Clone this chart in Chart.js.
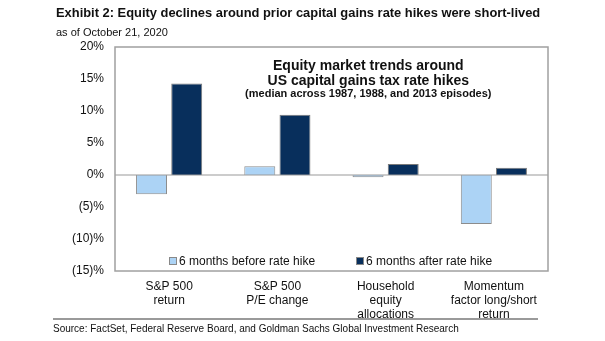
<!DOCTYPE html>
<html>
<head>
<meta charset="utf-8">
<script src="https://cdn.jsdelivr.net/npm/chart.js@4"></script>
<style>
  html, body { margin: 0; padding: 0; background: #fff; }
  #wrap { position: relative; width: 605px; height: 341px; font-family: "Liberation Sans", Arial, sans-serif; color: #111; }
  #c { position: absolute; left: 0; top: 0; }
  .t { position: absolute; white-space: nowrap; line-height: 1; }
  #title { left: 56px; top: 7px; font-size: 12.9px; font-weight: bold; }
  #sub { left: 56px; top: 27px; font-size: 11px; }
  #rule { position: absolute; left: 53px; top: 318px; width: 485px; height: 0; border-top: 2px solid #9a9a9a; }
  #src { left: 53px; top: 324px; font-size: 10px; }
</style>
</head>
<body>
<div id="wrap">
  <canvas id="c" width="605" height="341"></canvas>
  <div class="t" id="title">Exhibit 2: Equity declines around prior capital gains rate hikes were short-lived</div>
  <div class="t" id="sub">as of October 21, 2020</div>
  <div id="rule"></div>
  <div class="t" id="src">Source: FactSet, Federal Reserve Board, and Goldman Sachs Global Investment Research</div>
</div>
<script>
const categories = [
  ["S&P 500", "return"],
  ["S&P 500", "P/E change"],
  ["Household", "equity", "allocations"],
  ["Momentum", "factor long/short", "return"]
];
const seriesNames = ["6 months before rate hike", "6 months after rate hike"];
const beforeValues = [-3.0, 1.35, -0.35, -7.65];
const afterValues = [14.3, 9.4, 1.7, 1.15];
const yTicks = [20, 15, 10, 5, 0, -5, -10, -15];
const innerTitle = ["Equity market trends around", "US capital gains tax rate hikes", "(median across 1987, 1988, and 2013 episodes)"];

const FONT = '"Liberation Sans", Arial, sans-serif';
const LIGHT = '#acd3f5';
const DARK = '#082f5c';

function fmt(v) {
  if (v < 0) return '(' + Math.abs(v) + ')%';
  return v + '%';
}

const framePlugin = {
  id: 'frame',
  afterDatasetsDraw(chart) {
    const { ctx, chartArea: a, scales } = chart;
    ctx.save();
    const y0 = scales.y.getPixelForValue(0);
    ctx.strokeStyle = '#9a9a9a';
    ctx.lineWidth = 1.2;
    ctx.beginPath();
    ctx.moveTo(a.left, y0);
    ctx.lineTo(a.right, y0);
    ctx.stroke();
    ctx.strokeStyle = '#a0a0a0';
    ctx.lineWidth = 1.5;
    ctx.strokeRect(a.left, a.top, a.right - a.left, a.bottom - a.top);

    const cx = a.left + (a.right - a.left) * 0.585;
    ctx.fillStyle = '#111';
    ctx.textAlign = 'center';
    ctx.textBaseline = 'middle';
    ctx.font = 'bold 14px ' + FONT;
    ctx.fillText(innerTitle[0], cx, a.top + 19);
    ctx.fillText(innerTitle[1], cx, a.top + 34);
    ctx.font = 'bold 11px ' + FONT;
    ctx.fillText(innerTitle[2], cx, a.top + 47);

    const ly = a.bottom - 10;
    const items = [
      { x: 169, color: LIGHT, text: seriesNames[0] },
      { x: 356, color: DARK, text: seriesNames[1] }
    ];
    ctx.font = '12px ' + FONT;
    ctx.textAlign = 'left';
    items.forEach(it => {
      ctx.fillStyle = it.color;
      ctx.fillRect(it.x, ly - 4, 8, 8);
      ctx.strokeStyle = '#888';
      ctx.lineWidth = 1;
      ctx.strokeRect(it.x + 0.5, ly - 3.5, 7, 7);
      ctx.fillStyle = '#111';
      ctx.fillText(it.text, it.x + 10, ly + 0.5);
    });
    ctx.restore();
  }
};

new Chart(document.getElementById('c'), {
  type: 'bar',
  data: {
    labels: categories,
    datasets: [
      { label: seriesNames[0], data: beforeValues, backgroundColor: LIGHT, borderColor: '#8c8c8c', borderWidth: 1 },
      { label: seriesNames[1], data: afterValues, backgroundColor: DARK, borderColor: '#7a7a7a', borderWidth: 1 }
    ]
  },
  options: {
    responsive: false,
    animation: false,
    devicePixelRatio: 1,
    layout: { padding: { top: 47, right: 57, left: 0, bottom: 0 } },
    datasets: { bar: { categoryPercentage: 0.65, barPercentage: 0.88 } },
    plugins: { legend: { display: false }, tooltip: { enabled: false } },
    scales: {
      x: {
        grid: { display: false, drawTicks: false },
        border: { display: false },
        ticks: { color: '#111', font: { size: 12, family: FONT }, padding: 8, maxRotation: 0, autoSkip: false },
        afterFit(s) { s.height = 70; }
      },
      y: {
        min: -15, max: 20,
        grid: { display: false, drawTicks: false },
        border: { display: false },
        afterBuildTicks(s) { s.ticks = yTicks.map(v => ({ value: v })); },
        ticks: { color: '#111', font: { size: 12, family: FONT }, padding: 11, callback: v => fmt(v) },
        afterFit(s) { s.width = 115; }
      }
    }
  },
  plugins: [framePlugin]
});
</script>
</body>
</html>
